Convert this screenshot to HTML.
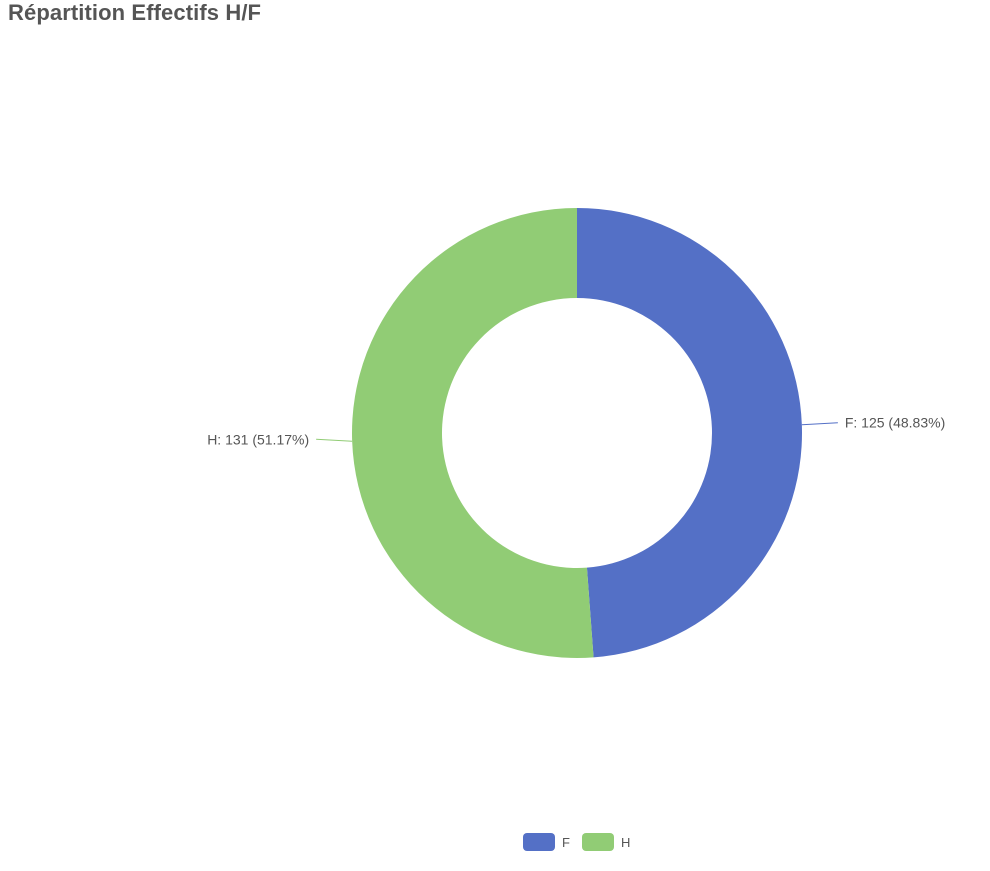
<!DOCTYPE html>
<html><head><meta charset="utf-8"><style>
body{margin:0;background:#fff;width:990px;height:871px;overflow:hidden;font-family:"Liberation Sans",sans-serif}
#title{position:absolute;left:8px;top:0px;font-size:22px;font-weight:bold;color:#555;letter-spacing:0.1px}
svg{position:absolute;left:0;top:0}
</style></head><body>
<div id="title">Répartition Effectifs H/F</div>
<svg id="chart" width="990" height="871"></svg>
<script>
const categories = ["F", "H"];
const values = [125, 131];
const colors = ["#5470c6", "#91cc75"];
const NS = "http://www.w3.org/2000/svg";
const svg = document.getElementById("chart");
const cx = 577, cy = 433, R = 225, r = 135;
const total = values.reduce((a, b) => a + b, 0);
function pt(a, rad) { return [cx + rad * Math.sin(a), cy - rad * Math.cos(a)]; }
let start = 0;
values.forEach((v, i) => {
  const sweep = v / total * 2 * Math.PI, end = start + sweep;
  const large = sweep > Math.PI ? 1 : 0;
  const [x1, y1] = pt(start, R), [x2, y2] = pt(end, R), [x3, y3] = pt(end, r), [x4, y4] = pt(start, r);
  const p = document.createElementNS(NS, "path");
  p.setAttribute("d", `M${x1},${y1}A${R},${R} 0 ${large} 1 ${x2},${y2}L${x3},${y3}A${r},${r} 0 ${large} 0 ${x4},${y4}Z`);
  p.setAttribute("fill", colors[i]);
  
  
  svg.appendChild(p);
  const mid = start + sweep / 2;
  const [lx1, ly1] = pt(mid, R);
  const right = Math.sin(mid) >= 0;
  const lx2 = lx1 + (right ? 36 : -36), ly2 = ly1 - 2;
  const ln = document.createElementNS(NS, "polyline");
  ln.setAttribute("points", `${lx1},${ly1} ${lx2},${ly2}`);
  ln.setAttribute("stroke", colors[i]);
  ln.setAttribute("fill", "none");
  
  
  svg.appendChild(ln);
  const t = document.createElementNS(NS, "text");
  t.setAttribute("x", lx2 + (right ? 7 : -7));
  t.setAttribute("y", ly2 + 5);
  t.setAttribute("text-anchor", right ? "start" : "end");
  t.setAttribute("font-size", "14");
  t.setAttribute("fill", "#555");
  t.setAttribute("font-family", "Liberation Sans, sans-serif");
  t.textContent = `${categories[i]}: ${v} (${(v / total * 100).toFixed(2)}%)`;
  
  
  svg.appendChild(t);
  start = end;
});
const legX = [523, 582];
categories.forEach((c, i) => {
  const g = document.createElementNS(NS, "g");
  
  
  const rc = document.createElementNS(NS, "rect");
  rc.setAttribute("x", legX[i]); rc.setAttribute("y", 833);
  rc.setAttribute("width", 32); rc.setAttribute("height", 18);
  rc.setAttribute("rx", 4); rc.setAttribute("fill", colors[i]);
  g.appendChild(rc);
  const t = document.createElementNS(NS, "text");
  t.setAttribute("x", legX[i] + 39); t.setAttribute("y", 847);
  t.setAttribute("font-size", "13"); t.setAttribute("fill", "#555");
  t.setAttribute("font-family", "Liberation Sans, sans-serif");
  t.textContent = c;
  g.appendChild(t);
  svg.appendChild(g);
});
</script>
</body></html>
